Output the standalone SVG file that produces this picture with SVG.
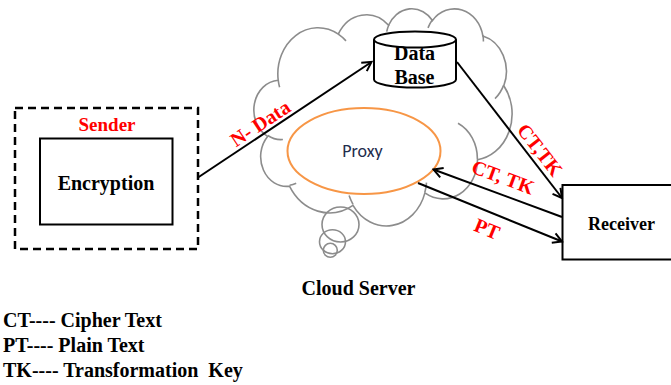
<svg xmlns="http://www.w3.org/2000/svg" width="671" height="385" viewBox="0 0 671 385">
<style>
.t{font-family:"Liberation Serif","Times New Roman",serif;font-weight:bold;font-size:20px;fill:#000}
.red{fill:#ff0000}
.cl{fill:none;stroke:#8c8c8c;stroke-width:1.6}
.ln{fill:none;stroke:#000;stroke-width:2}
</style>
<defs>
<marker id="ah" markerUnits="userSpaceOnUse" markerWidth="14" markerHeight="14" viewBox="0 0 14 14" refX="12" refY="7" orient="auto">
<path d="M3,2 L12,7 L3,12" fill="none" stroke="#000" stroke-width="2"/>
</marker>
</defs>
<rect width="671" height="385" fill="#fff"/>

<g id="cloud-server">
<path class="cl" style="fill:#fff" d="M278.2,80.2 A40.17,46.16 0 0 1 338.3,34.1 A31.73,36.50 0 0 1 388.6,25.3 A25.97,29.86 0 0 1 432.5,20.5 A28.89,33.13 0 0 1 482.9,36.0 A31.73,36.53 0 0 1 503.8,85.7 A40.30,46.31 0 0 1 477.5,159.7 A34.41,39.52 0 0 1 424.9,192.9 A40.17,46.29 0 0 1 353.0,205.3 A45.93,52.96 0 0 1 289.5,186.2 A25.94,29.73 0 0 1 267.6,136.4 A25.85,29.86 0 0 1 278.2,80.2 Z"/>
<path class="cl" d="M282.9,139.5 A25.85,29.86 0 0 1 267.8,135.5 M296.2,183.3 A25.94,29.73 0 0 1 289.6,185.2 M353.0,204.3 A40.17,46.29 0 0 1 349.1,195.6 M426.5,182.6 A40.17,46.29 0 0 1 424.9,192.1 M458.0,123.3 A34.41,39.52 0 0 1 477.4,159.1 M503.7,85.1 A31.73,36.53 0 0 1 495.0,98.6 M483.0,35.3 A28.89,33.13 0 0 1 483.4,41.6 M428.0,27.9 A28.89,33.13 0 0 1 432.4,19.7 M386.7,31.7 A25.97,29.86 0 0 1 388.9,24.7 M338.3,34.1 A40.17,46.16 0 0 1 346.0,40.9 M279.6,87.3 A40.17,46.16 0 0 1 278.2,80.2"/>
<ellipse class="cl" cx="340.5" cy="224.5" rx="18.5" ry="17.5"/>
<ellipse class="cl" cx="332.5" cy="241.7" rx="13" ry="12"/>
<circle class="cl" cx="330.3" cy="250.3" r="7"/>
<text class="t" x="358.5" y="295" text-anchor="middle">Cloud Server</text>
</g>

<g id="sender">
<rect x="15" y="108" width="183" height="141" fill="none" stroke="#000" stroke-width="2.5" stroke-dasharray="8 5"/>
<text class="t red" x="107" y="131" text-anchor="middle" style="font-size:19px">Sender</text>
</g>

<g id="encryption">
<rect x="40" y="138.5" width="132.5" height="86" fill="#fff" stroke="#000" stroke-width="2"/>
<text class="t" x="106" y="189.5" text-anchor="middle">Encryption</text>
</g>

<g id="database">
<path d="M374,39.5 V79.5 A41,8 0 0 0 456,79.5 V39.5" fill="#fff" stroke="#000" stroke-width="2"/>
<ellipse cx="415" cy="39.5" rx="41" ry="8" fill="#fff" stroke="#000" stroke-width="2"/>
<text class="t" x="414.5" y="60" text-anchor="middle">Data</text>
<text class="t" x="414.5" y="84" text-anchor="middle">Base</text>
</g>

<g id="proxy">
<ellipse cx="364" cy="151" rx="76.5" ry="43" fill="#fff" stroke="#f79646" stroke-width="2"/>
<text x="362.5" y="157" text-anchor="middle" font-family="Carlito, 'Liberation Sans', sans-serif" font-size="18" fill="#1f2d4d">Proxy</text>
</g>

<g id="receiver">
<rect x="562.5" y="185" width="112" height="74.5" fill="#fff" stroke="#000" stroke-width="2"/>
<text class="t" x="621.5" y="229.5" text-anchor="middle" style="font-size:18px">Receiver</text>
</g>

<g id="connectors">
<line class="ln" x1="198" y1="177.5" x2="371.5" y2="62" marker-end="url(#ah)"/>
<line class="ln" x1="457" y1="62" x2="562" y2="198" marker-end="url(#ah)"/>
<line class="ln" x1="562" y1="217" x2="433.5" y2="169.5" marker-end="url(#ah)"/>
<line class="ln" x1="418" y1="183" x2="562" y2="241.5" marker-end="url(#ah)"/>
</g>

<g id="labels">
<text class="t red" transform="translate(264,129) rotate(-33.5)" text-anchor="middle">N- Data</text>
<text class="t red" transform="translate(534.7,154.1) rotate(52.3)" text-anchor="middle">CT,TK</text>
<text class="t red" transform="translate(500.6,183.5) rotate(20.4)" text-anchor="middle">CT, TK</text>
<text class="t red" transform="translate(484.5,235.1) rotate(22.3)" text-anchor="middle">PT</text>
</g>

<g id="legend">
<text class="t" x="3" y="327.3">CT---- Cipher Text</text>
<text class="t" x="3" y="352.3">PT---- Plain Text</text>
<text class="t" x="3" y="377.3" xml:space="preserve">TK---- Transformation  Key</text>
</g>
</svg>
